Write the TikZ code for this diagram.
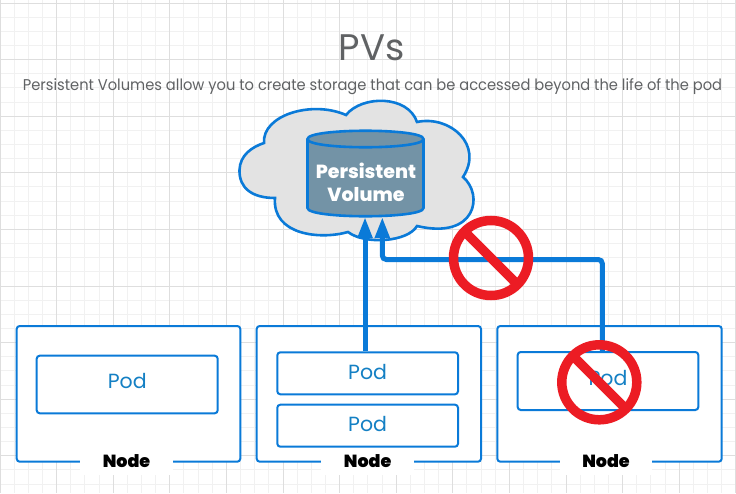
\documentclass[tikz,border=0pt]{standalone}
\usepackage{fontspec}
\usetikzlibrary{arrows.meta}
\setmainfont{Poppins}
\newfontfamily\heavyfont[UprightFont=* Black]{Poppins}
\newfontfamily\xboldfont[UprightFont=* ExtraBold]{Poppins}
\newfontfamily\narrowfont[FakeStretch=0.94]{Poppins}
\definecolor{kblue}{HTML}{0A7AD8}
\definecolor{podtext}{HTML}{1480C4}
\definecolor{kgrey}{HTML}{606264}
\definecolor{cloudfill}{HTML}{E3E3E3}
\definecolor{cylfill}{HTML}{7393A6}
\definecolor{nored}{HTML}{EC1C24}
\definecolor{minorgrid}{HTML}{F1F1F1}
\definecolor{majorgrid}{HTML}{DEDEDE}
\tikzset{
  x=1pt,y=-1pt,
  nodebox/.style={draw=kblue,line width=2pt,rounded corners=3pt,fill=white,inner sep=0pt,outer sep=0pt,anchor=north west},
  podbox/.style={nodebox,text=podtext,font=\fontsize{20.5}{21}\selectfont},
  nodelabel/.style={fill=white,inner sep=0pt,outer sep=0pt,minimum width=92.5pt,minimum height=28pt,font=\heavyfont\fontsize{17.5}{18}\selectfont,text=black},
  link/.style={draw=kblue,line width=5pt,rounded corners=4pt,-{Triangle[length=21pt,width=14pt]}},
  ring/.style={draw=nored,line width=9.5pt,fill=none,circle,minimum size=75pt,inner sep=0pt,outer sep=0pt},
  slash/.style={draw=nored,line width=9.5pt},
  outline/.style={draw=kblue,line width=2.6pt},
}
\begin{document}
\begin{tikzpicture}
\useasboundingbox (0,0) rectangle (736,493);
\fill[white] (0,0) rectangle (736,493);
% grid
\foreach \i in {0,...,52}{
  \draw[minorgrid,line width=1pt] ({\i*14.15},0) -- ({\i*14.15},493);
}
\foreach \i in {0,...,35}{
  \draw[minorgrid,line width=1pt] (0,{3+\i*14.15}) -- (736,{3+\i*14.15});
}
\foreach \i in {0,...,13}{
  \draw[majorgrid,line width=1pt] ({\i*56.6},0) -- ({\i*56.6},493);
}
\foreach \i in {0,...,8}{
  \draw[majorgrid,line width=1pt] (0,{3+\i*56.6}) -- (736,{3+\i*56.6});
}
% titles
\node[text=kgrey,font=\fontsize{37}{37}\selectfont] (title) at (371.5,48) {PVs};
\node[text=kgrey,font=\narrowfont\fontsize{15.6}{16}\selectfont] (subtitle) at (372.5,87) {Persistent Volumes allow you to create storage that can be accessed beyond the life of the pod};
% cloud
\draw[outline,fill=cloudfill]
  (264,143) .. controls (262,115) and (312,100) .. (346,115)
  .. controls (362,95) and (408,95) .. (417,122)
  .. controls (450,115) and (484,145) .. (463,177)
  .. controls (484,195) and (476,240) .. (417,226)
  .. controls (408,242) and (365,245) .. (348,232)
  .. controls (320,240) and (272,235) .. (275,198)
  .. controls (252,198) and (239,188) .. (239.5,170)
  .. controls (240,155) and (252,147) .. (264,143) -- cycle;
% cylinder
\draw[outline,fill=cylfill]
  (307.5,139) -- (307.5,208) .. controls (307.5,219) and (423.5,219) .. (423.5,208)
  -- (423.5,139) .. controls (423.5,128) and (307.5,128) .. (307.5,139) -- cycle;
\draw[outline] (307.5,139) .. controls (307.5,150) and (423.5,150) .. (423.5,139);
\node[inner sep=0pt,outer sep=0pt,minimum width=116pt,minimum height=78pt,anchor=north,text=white,align=center,font=\xboldfont\fontsize{19}{23.5}\selectfont] (pv) at (366,143.5) {Persistent\\Volume};
% nodes
\node[nodebox,minimum width=223.6pt,minimum height=135.7pt] (node1) at (16.7,326) {};
\node[nodebox,minimum width=224.3pt,minimum height=135.7pt] (node2) at (256.7,326) {};
\node[nodebox,minimum width=224.4pt,minimum height=135.7pt] (node3) at (497.3,326) {};
\node[nodelabel] (label1) at (126.5,461) {Node};
\node[nodelabel] (label2) at (367.7,461) {Node};
\node[nodelabel] (label3) at (606,461) {Node};
% pods
\node[podbox,minimum width=181pt,minimum height=57.6pt,text depth=7pt] (pod1) at (36.7,355.7) {Pod};
\node[podbox,minimum width=180.7pt,minimum height=42pt,text depth=3pt] (pod2) at (277.3,352.3) {Pod};
\node[podbox,minimum width=180.7pt,minimum height=42pt,text depth=4pt] (pod2b) at (277.3,404.7) {Pod};
\node[podbox,minimum width=180.6pt,minimum height=58pt,text depth=6pt] (pod3) at (517.7,352) {Pod};
% connectors
\coordinate (tipA) at (365,217);
\coordinate (tipB) at (382.3,217);
\coordinate (startB) at (602.3,351);
\coordinate (startA) at (365,351);
\draw[link] (startA) -- (tipA);
\draw[link] (startB) -- (602.3,259.5) -- (382.3,259.5) -- (tipB);
% prohibition signs
\node[ring] (noA) at (491,258) {};
\draw[slash] (noA.135) -- (noA.-45);
\node[ring] (noB) at (599.3,382.3) {};
\draw[slash] (noB.135) -- (noB.-45);
\end{tikzpicture}
\end{document}
